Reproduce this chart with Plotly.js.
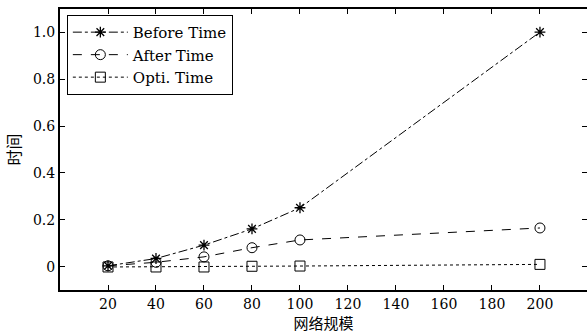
<!DOCTYPE html>
<html>
<head>
<meta charset="utf-8">
<script src="https://cdn.plot.ly/plotly-3.0.1.min.js"></script>
<style>html,body{margin:0;padding:0;background:#fff;}#chart{width:587px;height:334px;}</style>
</head>
<body>
<div id="chart"></div>
<script>
const xValues = [20, 40, 60, 80, 100, 200];
const beforeTime = [0.005, 0.036, 0.093, 0.162, 0.252, 1.0];
const afterTime = [0.005, 0.02, 0.043, 0.082, 0.115, 0.166];
const optiTime = [0.0, 0.0, 0.0, 0.003, 0.004, 0.011];
const seriesNames = ['Before Time', 'After Time', 'Opti. Time'];
const xTicks = [20, 40, 60, 80, 100, 120, 140, 160, 180, 200];
const yTicks = [0, 0.2, 0.4, 0.6, 0.8, 1.0];
const yTickText = ['0', '0.2', '0.4', '0.6', '0.8', '1.0'];

const serif = 'DejaVu Serif, Liberation Serif, serif';
const cjk = 'Noto Sans CJK SC';
const traces = [
  {x: xValues, y: beforeTime, name: seriesNames[0], mode: 'lines+markers',
   line: {color: '#000', width: 1, dash: 'dashdot'},
   marker: {symbol: 'asterisk-open', size: 9, color: '#000', line: {color: '#000', width: 1.3}}},
  {x: xValues, y: afterTime, name: seriesNames[1], mode: 'lines+markers',
   line: {color: '#000', width: 1, dash: 'dash'},
   marker: {symbol: 'circle-open', size: 10, color: '#000', line: {color: '#000', width: 1}}},
  {x: xValues, y: optiTime, name: seriesNames[2], mode: 'lines+markers',
   line: {color: '#000', width: 1, dash: 'dot'},
   marker: {symbol: 'square-open', size: 10, color: '#000', line: {color: '#000', width: 1}}}
];

const layout = {
  width: 587, height: 334,
  margin: {l: 60, r: 0, t: 9, b: 44},
  paper_bgcolor: '#fff', plot_bgcolor: '#fff',
  font: {family: serif, color: '#000', size: 15},
  showlegend: true,
  legend: {x: 0.013, y: 0.979, xanchor: 'left', yanchor: 'top',
    bordercolor: '#000', borderwidth: 1, bgcolor: '#fff',
    font: {family: serif, size: 15, color: '#000'},
    tracegroupgap: 0, itemwidth: 55},
  xaxis: {range: [0, 219.6], tickvals: xTicks, ticks: 'inside', ticklen: 5, tickwidth: 1,
    tickcolor: '#000', showline: true, linecolor: '#000', linewidth: 2, mirror: 'ticks',
    showgrid: false, zeroline: false,
    tickfont: {family: serif, size: 14, color: '#000'},
    title: {text: '网络规模', standoff: 7, font: {family: cjk, size: 15, color: '#000'}}},
  yaxis: {range: [-0.098, 1.098], tickvals: yTicks, ticktext: yTickText, ticks: 'inside', ticklen: 5,
    tickwidth: 1, tickcolor: '#000', showline: true, linecolor: '#000', linewidth: 2, mirror: 'ticks',
    showgrid: false, zeroline: false,
    tickfont: {family: serif, size: 14, color: '#000'},
    title: {text: '时间', standoff: 8, font: {family: cjk, size: 16, color: '#000'}}}
};

Plotly.newPlot('chart', traces, layout, {displayModeBar: false, staticPlot: true});
</script>
</body>
</html>
